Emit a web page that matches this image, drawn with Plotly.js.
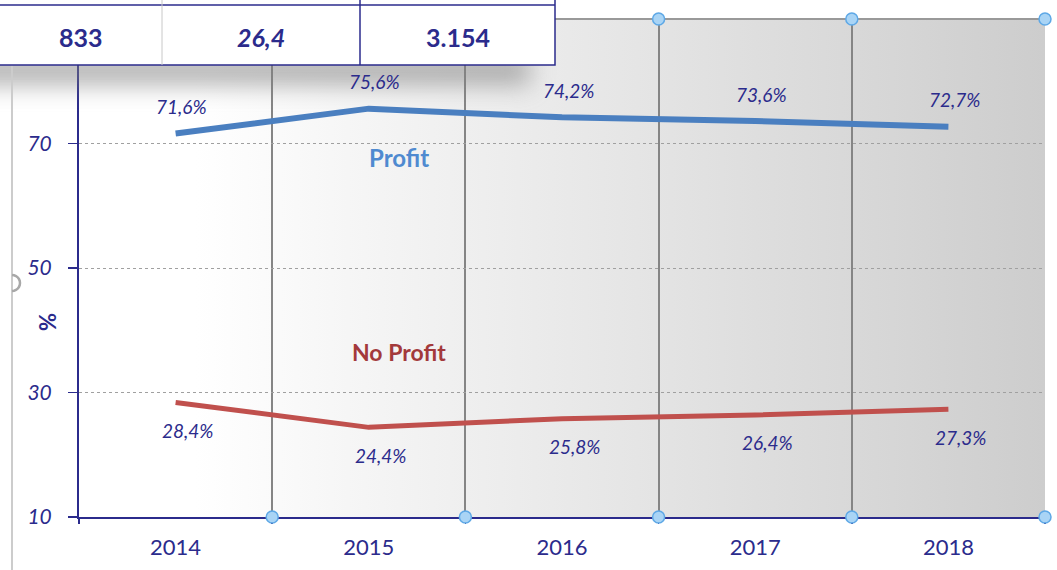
<!DOCTYPE html>
<html><head><meta charset="utf-8">
<script src="https://cdn.plot.ly/plotly-3.0.1.min.js"></script>
<style>html,body{margin:0;padding:0;background:#fff}#chart{width:1057px;height:570px}</style>
</head><body><div id="chart"></div>
<script>
const years = ['2014','2015','2016','2017','2018'];
const profit = [71.6, 75.6, 74.2, 73.6, 72.7];
const noProfit = [28.4, 24.4, 25.8, 26.4, 27.3];
const profitLabels = ['71,6%','75,6%','74,2%','73,6%','72,7%'];
const noProfitLabels = ['28,4%','24,4%','25,8%','26,4%','27,3%'];
const yTicks = [10, 30, 50, 70];
const tableValues = ['833', '26,4', '3.154'];

const NAVY = '#2b2b8c';
const FONT = 'Lato, "Liberation Sans", sans-serif';
const L = 79, R = 1045, T = 19, B = 517;
const px = v => (v - L) / (R - L);
const py = v => (B - v) / (B - T);

const gradSvg = '<svg xmlns="http://www.w3.org/2000/svg" width="100" height="100" viewBox="0 0 100 100" preserveAspectRatio="none"><defs><linearGradient id="g" x1="0" x2="1" y1="0" y2="0"><stop offset="0" stop-color="#ffffff"/><stop offset="0.12" stop-color="#ffffff"/><stop offset="1" stop-color="#cdcdcd"/></linearGradient></defs><rect width="100" height="100" fill="url(#g)"/></svg>';
const shadowSvg = '<svg xmlns="http://www.w3.org/2000/svg" width="620" height="90" viewBox="0 0 620 90" preserveAspectRatio="none"><defs><filter id="f" x="-30%" y="-200%" width="160%" height="500%"><feGaussianBlur stdDeviation="12"/></filter></defs><rect x="0" y="0" width="560" height="30" fill="#808080" opacity="0.6" filter="url(#f)"/></svg>';
const uri = s => 'data:image/svg+xml;charset=utf-8,' + encodeURIComponent(s);

const traces = [
  {x: years, y: profit, type: 'scatter', mode: 'lines', line: {color: '#4a7fc0', width: 6}, hoverinfo: 'none'},
  {x: years, y: noProfit, type: 'scatter', mode: 'lines', line: {color: '#c0504d', width: 5}, hoverinfo: 'none'}
];

const labelFont = {family: FONT, size: 19, color: NAVY, style: 'italic'};
const annotations = [];
years.forEach((yr, i) => {
  annotations.push({x: i, y: profit[i], text: profitLabels[i], showarrow: false, xanchor: 'center', yanchor: 'middle',
    xshift: 6, yshift: 27, font: labelFont});
  annotations.push({x: i, y: noProfit[i], text: noProfitLabels[i], showarrow: false, xanchor: 'center', yanchor: 'middle',
    xshift: 12, yshift: -28, font: labelFont});
});
annotations.push({x: 1, y: 67.7, text: '<b>Profit</b>', showarrow: false, xshift: 30, xanchor: 'center', yanchor: 'middle',
  font: {family: FONT, size: 24, color: '#4f8ad0'}});
annotations.push({x: 1, y: 36.5, text: '<b>No Profit</b>', showarrow: false, xshift: 30, xanchor: 'center', yanchor: 'middle',
  font: {family: FONT, size: 23, color: '#a3393b'}});
annotations.push({xref: 'paper', yref: 'paper', x: px(47), y: py(322), text: '<b>%</b>', textangle: -90,
  xanchor: 'center', yanchor: 'middle', showarrow: false, font: {family: FONT, size: 22, color: NAVY}});

const cells = [[0, 162], [162, 360], [360, 555]];
tableValues.forEach((v, i) => {
  const c = (cells[i][0] + cells[i][1]) / 2;
  annotations.push({xref: 'paper', yref: 'paper', x: px(c), y: py(37), text: i === 1 ? '<b><i>' + v + '</i></b>' : '<b>' + v + '</b>',
    xanchor: 'center', yanchor: 'middle', showarrow: false, font: {family: FONT, size: 25, color: NAVY}});
});

const shapes = [];
shapes.push({type: 'line', xref: 'paper', yref: 'paper', x0: 0, x1: 1, y0: 1, y1: 1, line: {color: '#999999', width: 2}, layer: 'above'});
shapes.push({type: 'line', xref: 'paper', yref: 'paper', x0: px(12), x1: px(12), y0: py(0), y1: py(570), line: {color: '#cccccc', width: 2}});
shapes.push({type: 'path', xref: 'paper', yref: 'paper', path: (function(){
  const pts = [];
  for (let k = 0; k <= 12; k++) { const a = -Math.PI/2 + Math.PI * k / 12; pts.push([px(12 + 8*Math.cos(a)), py(283 + 8*Math.sin(a))]); }
  return 'M' + pts.map(p => p[0] + ',' + p[1]).join(' L');
})(), line: {color: '#a8a8a8', width: 2.5}});
// table
shapes.push({type: 'rect', xref: 'paper', yref: 'paper', x0: px(-2), x1: px(555), y0: py(65), y1: py(-5), fillcolor: '#ffffff', line: {color: NAVY, width: 1.5}, layer: 'above'});
shapes.push({type: 'line', xref: 'paper', yref: 'paper', x0: px(-2), x1: px(555), y0: py(5), y1: py(5), line: {color: NAVY, width: 1.5}, layer: 'above'});
shapes.push({type: 'line', xref: 'paper', yref: 'paper', x0: px(162), x1: px(162), y0: py(65), y1: py(-5), line: {color: '#c8c8c8', width: 1}, layer: 'above'});
shapes.push({type: 'line', xref: 'paper', yref: 'paper', x0: px(360), x1: px(360), y0: py(65), y1: py(-5), line: {color: NAVY, width: 1.5}, layer: 'above'});
// boundary handles
const topCircles = [0.6, 0.8, 1.0];
[0.2, 0.4, 0.6, 0.8, 1.0].forEach(fx => {
  const ys = [0];
  if (topCircles.indexOf(fx) >= 0) ys.push(1);
  ys.forEach(fy => {
    shapes.push({type: 'circle', xref: 'paper', yref: 'paper', xsizemode: 'pixel', ysizemode: 'pixel',
      xanchor: fx, yanchor: fy, x0: -6, x1: 6, y0: -6, y1: 6,
      fillcolor: '#a9d4f5', line: {color: '#5ea8e6', width: 1.5}, layer: 'above'});
  });
});

const layout = {
  width: 1057, height: 570,
  margin: {l: L, r: 1057 - R, t: T, b: 570 - B, pad: 0},
  paper_bgcolor: '#ffffff', plot_bgcolor: 'rgba(0,0,0,0)',
  showlegend: false,
  font: {family: FONT, color: NAVY},
  xaxis: {type: 'category', range: [-0.5, 4.5], tickson: 'boundaries', showgrid: true, gridcolor: '#858585', gridwidth: 2,
    ticks: 'outside', ticklen: 5, tickwidth: 1.5, tickcolor: NAVY, showline: true, linecolor: NAVY, linewidth: 2,
    ticklabelstandoff: 10,
    tickfont: {family: FONT, size: 22, color: NAVY}, zeroline: false, fixedrange: true},
  yaxis: {range: [10, 90], tickvals: yTicks, ticktext: yTicks.map(String), showgrid: true, gridcolor: '#a0a0a0', gridwidth: 1, griddash: 'dot',
    ticks: 'outside', ticklen: 9, tickwidth: 1.5, tickcolor: NAVY, showline: true, linecolor: NAVY, linewidth: 2,
    ticklabelstandoff: 12,
    tickfont: {family: FONT, size: 21, color: NAVY, style: 'italic'}, zeroline: false, fixedrange: true},
  images: [
    {source: uri(gradSvg), xref: 'paper', yref: 'paper', x: 0, y: 1, sizex: 1, sizey: 1, xanchor: 'left', yanchor: 'top', sizing: 'stretch', layer: 'below'},
    {source: uri(shadowSvg), xref: 'paper', yref: 'paper', x: px(-30), y: py(55), sizex: 620 / (R - L), sizey: 90 / (B - T), xanchor: 'left', yanchor: 'top', sizing: 'stretch', layer: 'above', opacity: 1}
  ],
  shapes: shapes,
  annotations: annotations
};

Plotly.newPlot('chart', traces, layout, {staticPlot: true, displayModeBar: false});
</script></body></html>
